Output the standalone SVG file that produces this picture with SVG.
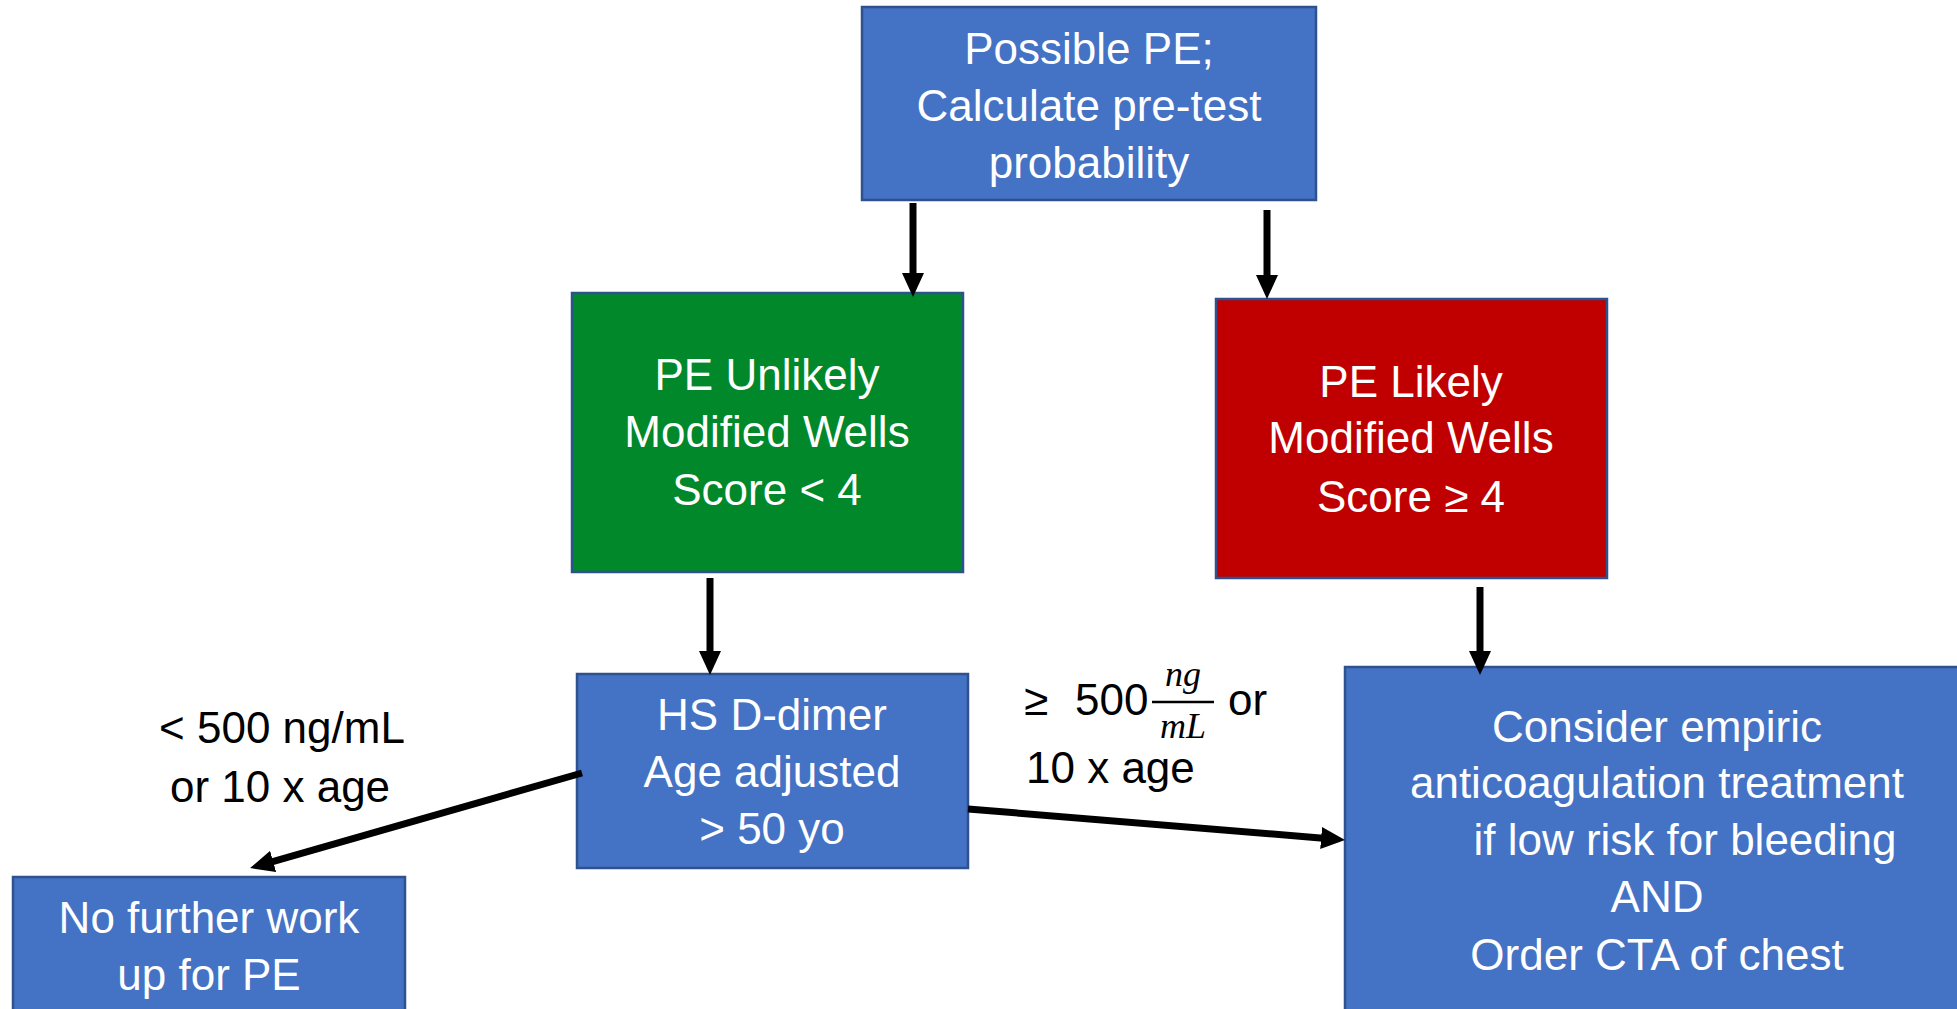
<svg xmlns="http://www.w3.org/2000/svg" width="1957" height="1009" viewBox="0 0 1957 1009">
<style>
.box{stroke:#2F528F;stroke-width:2.5}
.blue{fill:#4472C4}
.green{fill:#00882B}
.red{fill:#C00000}
.t{font-family:"Liberation Sans",Arial,sans-serif;font-size:44px;fill:#ffffff;text-anchor:middle}
.lbl{font-family:"Liberation Sans",Arial,sans-serif;font-size:44px;fill:#000000}
.math{font-family:"Liberation Serif","Times New Roman",serif;font-style:italic;font-size:36px;fill:#000000;text-anchor:middle}
.c{stroke:#000;stroke-width:7;fill:none;marker-end:url(#ah)}
</style>
<defs>
<marker id="ah" markerUnits="userSpaceOnUse" markerWidth="24" markerHeight="22" refX="5" refY="11" orient="auto" viewBox="0 0 24 22">
<path d="M0,0 L24,11 L0,22 z" fill="#000"/>
</marker>
</defs>
<rect width="1957" height="1009" fill="#ffffff"/>
<g id="n-start">
<rect class="box blue" x="862" y="7" width="454" height="193"/>
<text class="t" x="1089" y="64">Possible PE;</text>
<text class="t" x="1089" y="121">Calculate pre-test</text>
<text class="t" x="1089" y="178">probability</text>
</g>
<g id="n-unlikely">
<rect class="box green" x="572" y="293" width="391" height="279"/>
<text class="t" x="767" y="390">PE Unlikely</text>
<text class="t" x="767" y="447">Modified Wells</text>
<text class="t" x="767" y="505">Score &lt; 4</text>
</g>
<g id="n-likely">
<rect class="box red" x="1216" y="299" width="391" height="279"/>
<text class="t" x="1411" y="397">PE Likely</text>
<text class="t" x="1411" y="453">Modified Wells</text>
<text class="t" x="1411" y="512">Score ≥ 4</text>
</g>
<g id="n-ddimer">
<rect class="box blue" x="577" y="674" width="391" height="194"/>
<text class="t" x="772" y="730">HS D-dimer</text>
<text class="t" x="772" y="787">Age adjusted</text>
<text class="t" x="772" y="844">&gt; 50 yo</text>
</g>
<g id="n-nofurther">
<rect class="box blue" x="13" y="877" width="392" height="150"/>
<text class="t" x="209" y="933">No further work</text>
<text class="t" x="209" y="990">up for PE</text>
</g>
<g id="n-consider">
<rect class="box blue" x="1345" y="667" width="640" height="360"/>
<text class="t" x="1657" y="742">Consider empiric</text>
<text class="t" x="1657" y="798">anticoagulation treatment</text>
<text class="t" x="1685" y="855">if low risk for bleeding</text>
<text class="t" x="1657" y="912">AND</text>
<text class="t" x="1657" y="970">Order CTA of chest</text>
</g>
<g id="labels">
<text class="lbl" x="282" y="743" text-anchor="middle">&lt; 500 ng/mL</text>
<text class="lbl" x="280" y="802" text-anchor="middle">or 10 x age</text>
<text class="lbl" x="1024" y="715">≥</text>
<text class="lbl" x="1075" y="715">500</text>
<text class="math" x="1183" y="686">ng</text>
<line x1="1152" y1="702" x2="1214" y2="702" stroke="#000" stroke-width="2.5"/>
<text class="math" x="1183" y="738">mL</text>
<text class="lbl" x="1228" y="715">or</text>
<text class="lbl" x="1026" y="783">10 x age</text>
</g>
<g id="connectors">
<line class="c" x1="913" y1="203" x2="913" y2="278"/>
<line class="c" x1="1267" y1="210" x2="1267" y2="280"/>
<line class="c" x1="710" y1="578" x2="710" y2="656"/>
<line class="c" x1="1480" y1="587" x2="1480" y2="656"/>
<line class="c" x1="582" y1="773" x2="268.3" y2="862.8"/>
<line class="c" x1="968" y1="809" x2="1326.1" y2="838.4"/>
</g>
</svg>
